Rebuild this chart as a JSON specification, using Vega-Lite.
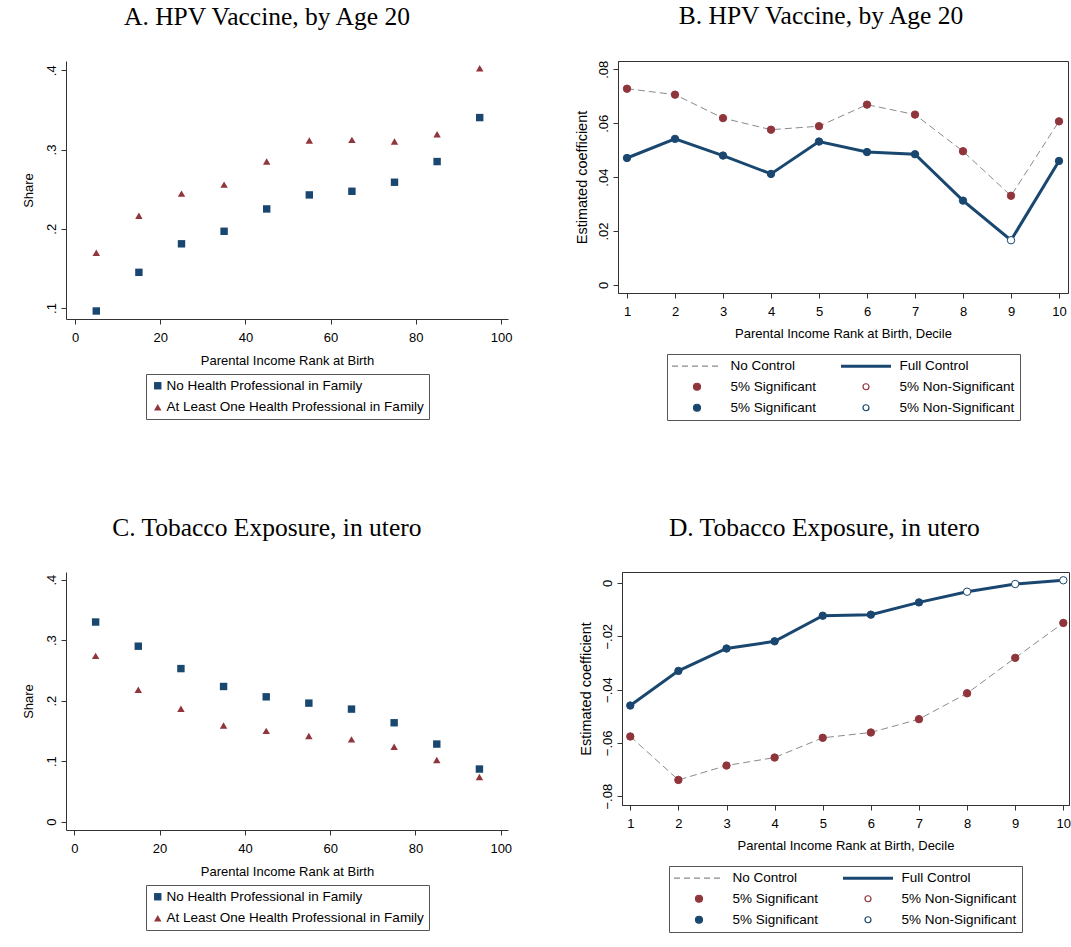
{
  "$schema": "https://vega.github.io/schema/vega-lite/v6.json",
  "background": "white",
  "padding": {"left": 22, "top": 3, "right": 0, "bottom": 0},
  "config": {
    "font": "Liberation Sans",
    "view": {"stroke": null},
    "axis": {"labelFont": "Liberation Sans", "labelFontSize": 13, "labelColor": "#000", "titleFont": "Liberation Sans", "titleFontSize": 13, "titleFontWeight": "normal", "titleColor": "#000", "domainColor": "#333", "tickColor": "#333", "grid": false, "tickSize": 5, "labelPadding": 3, "titlePadding": 10},
    "axisY": {"labelAngle": -90, "labelAlign": "center", "labelBaseline": "bottom"},
    "title": {"font": "Liberation Serif", "fontSize": 25.5, "fontWeight": "normal", "color": "#000", "anchor": "middle", "offset": 31, "frame": "bounds"},
    "legend": {"labelFont": "Liberation Sans", "labelFontSize": 13.5, "labelColor": "#000", "strokeColor": "#555", "labelLimit": 500, "layout": {"bottom": {"anchor": "middle"}}}
  },
  "resolve": {"scale": {"shape": "independent", "color": "independent", "fill": "independent", "stroke": "independent"}, "legend": {"shape": "independent", "color": "independent", "fill": "independent", "stroke": "independent"}},
  "datasets": {
    "a": [
      {"rank": 5, "group": "No Health Professional in Family", "share": 0.0962},
      {"rank": 15, "group": "No Health Professional in Family", "share": 0.145},
      {"rank": 25, "group": "No Health Professional in Family", "share": 0.181},
      {"rank": 35, "group": "No Health Professional in Family", "share": 0.1968},
      {"rank": 45, "group": "No Health Professional in Family", "share": 0.225},
      {"rank": 55, "group": "No Health Professional in Family", "share": 0.2427},
      {"rank": 65, "group": "No Health Professional in Family", "share": 0.2473},
      {"rank": 75, "group": "No Health Professional in Family", "share": 0.2587},
      {"rank": 85, "group": "No Health Professional in Family", "share": 0.2848},
      {"rank": 95, "group": "No Health Professional in Family", "share": 0.3403},
      {"rank": 5, "group": "At Least One Health Professional in Family", "share": 0.1698},
      {"rank": 15, "group": "At Least One Health Professional in Family", "share": 0.2165},
      {"rank": 25, "group": "At Least One Health Professional in Family", "share": 0.2443},
      {"rank": 35, "group": "At Least One Health Professional in Family", "share": 0.2557},
      {"rank": 45, "group": "At Least One Health Professional in Family", "share": 0.2848},
      {"rank": 55, "group": "At Least One Health Professional in Family", "share": 0.3113},
      {"rank": 65, "group": "At Least One Health Professional in Family", "share": 0.3122},
      {"rank": 75, "group": "At Least One Health Professional in Family", "share": 0.3101},
      {"rank": 85, "group": "At Least One Health Professional in Family", "share": 0.3192},
      {"rank": 95, "group": "At Least One Health Professional in Family", "share": 0.4025}
    ],
    "c": [
      {"rank": 5, "group": "No Health Professional in Family", "share": 0.330},
      {"rank": 15, "group": "No Health Professional in Family", "share": 0.290},
      {"rank": 25, "group": "No Health Professional in Family", "share": 0.253},
      {"rank": 35, "group": "No Health Professional in Family", "share": 0.2234},
      {"rank": 45, "group": "No Health Professional in Family", "share": 0.2063},
      {"rank": 55, "group": "No Health Professional in Family", "share": 0.1959},
      {"rank": 65, "group": "No Health Professional in Family", "share": 0.186},
      {"rank": 75, "group": "No Health Professional in Family", "share": 0.1634},
      {"rank": 85, "group": "No Health Professional in Family", "share": 0.1282},
      {"rank": 95, "group": "No Health Professional in Family", "share": 0.0869},
      {"rank": 5, "group": "At Least One Health Professional in Family", "share": 0.274},
      {"rank": 15, "group": "At Least One Health Professional in Family", "share": 0.2179},
      {"rank": 25, "group": "At Least One Health Professional in Family", "share": 0.1865},
      {"rank": 35, "group": "At Least One Health Professional in Family", "share": 0.159},
      {"rank": 45, "group": "At Least One Health Professional in Family", "share": 0.150},
      {"rank": 55, "group": "At Least One Health Professional in Family", "share": 0.1414},
      {"rank": 65, "group": "At Least One Health Professional in Family", "share": 0.1359},
      {"rank": 75, "group": "At Least One Health Professional in Family", "share": 0.1238},
      {"rank": 85, "group": "At Least One Health Professional in Family", "share": 0.1018},
      {"rank": 95, "group": "At Least One Health Professional in Family", "share": 0.0737}
    ],
    "b": [
      {"decile": 1, "model": "No Control", "coef": 0.0728, "sig": true},
      {"decile": 2, "model": "No Control", "coef": 0.0706, "sig": true},
      {"decile": 3, "model": "No Control", "coef": 0.0619, "sig": true},
      {"decile": 4, "model": "No Control", "coef": 0.0576, "sig": true},
      {"decile": 5, "model": "No Control", "coef": 0.0589, "sig": true},
      {"decile": 6, "model": "No Control", "coef": 0.0669, "sig": true},
      {"decile": 7, "model": "No Control", "coef": 0.0632, "sig": true},
      {"decile": 8, "model": "No Control", "coef": 0.0496, "sig": true},
      {"decile": 9, "model": "No Control", "coef": 0.0331, "sig": true},
      {"decile": 10, "model": "No Control", "coef": 0.0607, "sig": true},
      {"decile": 1, "model": "Full Control", "coef": 0.0471, "sig": true},
      {"decile": 2, "model": "Full Control", "coef": 0.0542, "sig": true},
      {"decile": 3, "model": "Full Control", "coef": 0.0480, "sig": true},
      {"decile": 4, "model": "Full Control", "coef": 0.0412, "sig": true},
      {"decile": 5, "model": "Full Control", "coef": 0.0532, "sig": true},
      {"decile": 6, "model": "Full Control", "coef": 0.0493, "sig": true},
      {"decile": 7, "model": "Full Control", "coef": 0.0485, "sig": true},
      {"decile": 8, "model": "Full Control", "coef": 0.0313, "sig": true},
      {"decile": 9, "model": "Full Control", "coef": 0.0166, "sig": false},
      {"decile": 10, "model": "Full Control", "coef": 0.0460, "sig": true}
    ],
    "d": [
      {"decile": 1, "model": "No Control", "coef": -0.0576, "sig": true},
      {"decile": 2, "model": "No Control", "coef": -0.0739, "sig": true},
      {"decile": 3, "model": "No Control", "coef": -0.0685, "sig": true},
      {"decile": 4, "model": "No Control", "coef": -0.0655, "sig": true},
      {"decile": 5, "model": "No Control", "coef": -0.0581, "sig": true},
      {"decile": 6, "model": "No Control", "coef": -0.0561, "sig": true},
      {"decile": 7, "model": "No Control", "coef": -0.0511, "sig": true},
      {"decile": 8, "model": "No Control", "coef": -0.0414, "sig": true},
      {"decile": 9, "model": "No Control", "coef": -0.0281, "sig": true},
      {"decile": 10, "model": "No Control", "coef": -0.0150, "sig": true},
      {"decile": 1, "model": "Full Control", "coef": -0.0460, "sig": true},
      {"decile": 2, "model": "Full Control", "coef": -0.0330, "sig": true},
      {"decile": 3, "model": "Full Control", "coef": -0.0246, "sig": true},
      {"decile": 4, "model": "Full Control", "coef": -0.0219, "sig": true},
      {"decile": 5, "model": "Full Control", "coef": -0.0123, "sig": true},
      {"decile": 6, "model": "Full Control", "coef": -0.0119, "sig": true},
      {"decile": 7, "model": "Full Control", "coef": -0.0073, "sig": true},
      {"decile": 8, "model": "Full Control", "coef": -0.0033, "sig": false},
      {"decile": 9, "model": "Full Control", "coef": -0.0004, "sig": false},
      {"decile": 10, "model": "Full Control", "coef": 0.0010, "sig": false}
    ]
  },
  "spacing": 94,
  "vconcat": [
    {
      "spacing": 61,
      "resolve": {"scale": {"shape": "independent", "color": "independent", "fill": "independent", "stroke": "independent"}, "legend": {"shape": "independent", "color": "independent", "fill": "independent", "stroke": "independent"}},
      "hconcat": [
        {
          "width": 442, "height": 258,
          "title": {"text": "A. HPV Vaccine, by Age 20"},
          "data": {"name": "a"},
          "mark": {"type": "point", "filled": true, "opacity": 1},
          "encoding": {
            "x": {"field": "rank", "type": "quantitative", "scale": {"domain": [-2.11, 101.64], "nice": false, "zero": false}, "axis": {"values": [0, 20, 40, 60, 80, 100], "title": "Parental Income Rank at Birth", "labelPadding": 7, "titlePadding": 10}},
            "y": {"field": "share", "type": "quantitative", "scale": {"domain": [0.0861, 0.4117], "nice": false, "zero": false}, "axis": {"values": [0.1, 0.2, 0.3, 0.4], "title": "Share", "labelExpr": "datum.value == 0 ? '0' : replace(format(datum.value, '.1f'), '0.', '.')"}},
            "shape": {"field": "group", "type": "nominal", "scale": {"domain": ["No Health Professional in Family", "At Least One Health Professional in Family"], "range": ["square", "triangle-up"]}, "legend": {"title": null, "orient": "bottom", "direction": "vertical", "symbolSize": 55, "padding": 5, "labelOffset": 2, "rowPadding": 6.5, "offset": 7}},
            "color": {"field": "group", "type": "nominal", "scale": {"domain": ["No Health Professional in Family", "At Least One Health Professional in Family"], "range": ["#1a476f", "#90353b"]}, "legend": {"title": null, "orient": "bottom", "direction": "vertical", "symbolSize": 55, "padding": 5, "labelOffset": 2, "rowPadding": 6.5, "offset": 7}},
            "size": {"value": 55}
          }
        },
        {
          "width": 450, "height": 232,
          "title": {"text": "B. HPV Vaccine, by Age 20"},
          "view": {"stroke": "#333", "strokeWidth": 1},
          "data": {"name": "b"},
          "encoding": {
            "x": {"field": "decile", "type": "quantitative", "scale": {"domain": [0.8125, 10.1875], "nice": false, "zero": false}, "axis": {"values": [1, 2, 3, 4, 5, 6, 7, 8, 9, 10], "title": "Parental Income Rank at Birth, Decile", "labelPadding": 7, "titlePadding": 9}},
            "y": {"field": "coef", "type": "quantitative", "scale": {"domain": [-0.00297, 0.08308], "nice": false, "zero": false}, "axis": {"values": [0, 0.02, 0.04, 0.06, 0.08], "title": "Estimated coefficient", "titleFontSize": 14.5, "titlePadding": 8, "labelExpr": "datum.value == 0 ? '0' : replace(format(datum.value, '.2f'), '0.', '.')"}}
          },
          "layer": [
            {"data": {"values": [{}]}, "mark": {"type": "rule", "color": "#555", "strokeWidth": 1}, "encoding": {"x": null, "y": {"datum": 0, "type": "quantitative"}}},
            {"transform": [{"filter": "datum.model == 'No Control'"}], "mark": {"type": "line", "color": "#8a8a8a", "strokeWidth": 1, "strokeDash": [7, 4]}},
            {"transform": [{"filter": "datum.model == 'Full Control'"}], "mark": {"type": "line", "color": "#1a476f", "strokeWidth": 3}},
            {"transform": [{"filter": "datum.model == 'No Control'"}], "mark": {"type": "point", "shape": "circle", "size": 55, "opacity": 1, "strokeWidth": 1}, "encoding": {"fill": {"condition": {"test": "datum.sig", "value": "#90353b"}, "value": "white"}, "stroke": {"value": "#90353b"}}},
            {"transform": [{"filter": "datum.model == 'Full Control'"}], "mark": {"type": "point", "shape": "circle", "size": 55, "opacity": 1, "strokeWidth": 1}, "encoding": {"fill": {"condition": {"test": "datum.sig", "value": "#1a476f"}, "value": "white"}, "stroke": {"value": "#1a476f"}}},
            {"transform": [{"filter": "false"}], "mark": {"type": "point", "opacity": 1, "filled": true},
              "encoding": {
                "shape": {"field": "leg", "type": "nominal", "scale": {"domain": ["No Control", "Full Control", "5% Significant", "5% Non-Significant", "5% Significant ", "5% Non-Significant "], "range": ["M-1.35,0H-0.15M0.65,0H1.85M2.65,0H3.85M4.65,0H5.85M6.65,0H7.85", "M-1.35,-0.3H8.65V0.3H-1.35Z", "M2.95,0A0.7,0.7 0 1,0 4.35,0A0.7,0.7 0 1,0 2.95,0Z", "M3.05,0A0.6,0.6 0 1,0 4.25,0A0.6,0.6 0 1,0 3.05,0Z", "M2.95,0A0.7,0.7 0 1,0 4.35,0A0.7,0.7 0 1,0 2.95,0Z", "M3.05,0A0.6,0.6 0 1,0 4.25,0A0.6,0.6 0 1,0 3.05,0Z"]}, "legend": {"title": null, "orient": "bottom", "direction": "horizontal", "columns": 2, "symbolSize": 100, "symbolStrokeWidth": 1.2, "labelOffset": 45, "columnPadding": 21, "rowPadding": 6, "padding": 5, "gridAlign": "each", "offset": 14}},
                "fill": {"field": "leg", "type": "nominal", "scale": {"domain": ["No Control", "Full Control", "5% Significant", "5% Non-Significant", "5% Significant ", "5% Non-Significant "], "range": ["transparent", "#1a476f", "#90353b", "white", "#1a476f", "white"]}, "legend": {"title": null, "orient": "bottom", "direction": "horizontal", "columns": 2, "symbolSize": 100, "symbolStrokeWidth": 1.2, "labelOffset": 45, "columnPadding": 21, "rowPadding": 6, "padding": 5, "gridAlign": "each", "offset": 14}},
                "stroke": {"field": "leg", "type": "nominal", "scale": {"domain": ["No Control", "Full Control", "5% Significant", "5% Non-Significant", "5% Significant ", "5% Non-Significant "], "range": ["#8a8a8a", "transparent", "#90353b", "#90353b", "#1a476f", "#1a476f"]}, "legend": {"title": null, "orient": "bottom", "direction": "horizontal", "columns": 2, "symbolSize": 100, "symbolStrokeWidth": 1.2, "labelOffset": 45, "columnPadding": 21, "rowPadding": 6, "padding": 5, "gridAlign": "each", "offset": 14}}
              }
            }
          ]
        }
      ]
    },
    {
      "spacing": 65,
      "resolve": {"scale": {"shape": "independent", "color": "independent", "fill": "independent", "stroke": "independent"}, "legend": {"shape": "independent", "color": "independent", "fill": "independent", "stroke": "independent"}},
      "hconcat": [
        {
          "width": 442, "height": 258,
          "title": {"text": "C. Tobacco Exposure, in utero"},
          "data": {"name": "c"},
          "mark": {"type": "point", "filled": true, "opacity": 1},
          "encoding": {
            "x": {"field": "rank", "type": "quantitative", "scale": {"domain": [-1.95, 101.7], "nice": false, "zero": false}, "axis": {"values": [0, 20, 40, 60, 80, 100], "title": "Parental Income Rank at Birth", "labelPadding": 7, "titlePadding": 10}},
            "y": {"field": "share", "type": "quantitative", "scale": {"domain": [-0.0139, 0.4127], "nice": false, "zero": false}, "axis": {"values": [0, 0.1, 0.2, 0.3, 0.4], "title": "Share", "labelExpr": "datum.value == 0 ? '0' : replace(format(datum.value, '.1f'), '0.', '.')"}},
            "shape": {"field": "group", "type": "nominal", "scale": {"domain": ["No Health Professional in Family", "At Least One Health Professional in Family"], "range": ["square", "triangle-up"]}, "legend": {"title": null, "orient": "bottom", "direction": "vertical", "symbolSize": 55, "padding": 5, "labelOffset": 2, "rowPadding": 6.5, "offset": 7}},
            "color": {"field": "group", "type": "nominal", "scale": {"domain": ["No Health Professional in Family", "At Least One Health Professional in Family"], "range": ["#1a476f", "#90353b"]}, "legend": {"title": null, "orient": "bottom", "direction": "vertical", "symbolSize": 55, "padding": 5, "labelOffset": 2, "rowPadding": 6.5, "offset": 7}},
            "size": {"value": 55}
          }
        },
        {
          "width": 447, "height": 233,
          "title": {"text": "D. Tobacco Exposure, in utero"},
          "view": {"stroke": "#333", "strokeWidth": 1},
          "data": {"name": "d"},
          "encoding": {
            "x": {"field": "decile", "type": "quantitative", "scale": {"domain": [0.828, 10.118], "nice": false, "zero": false}, "axis": {"values": [1, 2, 3, 4, 5, 6, 7, 8, 9, 10], "title": "Parental Income Rank at Birth, Decile", "labelPadding": 7, "titlePadding": 9}},
            "y": {"field": "coef", "type": "quantitative", "scale": {"domain": [-0.0833, 0.0041], "nice": false, "zero": false}, "axis": {"values": [-0.08, -0.06, -0.04, -0.02, 0], "title": "Estimated coefficient", "titleFontSize": 14.5, "titlePadding": 8, "labelExpr": "datum.value == 0 ? '0' : replace(format(datum.value, '.2f'), '0.', '.')"}}
          },
          "layer": [
            {"data": {"values": [{}]}, "mark": {"type": "rule", "color": "#555", "strokeWidth": 1}, "encoding": {"x": null, "y": {"datum": 0, "type": "quantitative"}}},
            {"transform": [{"filter": "datum.model == 'No Control'"}], "mark": {"type": "line", "color": "#8a8a8a", "strokeWidth": 1, "strokeDash": [7, 4]}},
            {"transform": [{"filter": "datum.model == 'Full Control'"}], "mark": {"type": "line", "color": "#1a476f", "strokeWidth": 3}},
            {"transform": [{"filter": "datum.model == 'No Control'"}], "mark": {"type": "point", "shape": "circle", "size": 55, "opacity": 1, "strokeWidth": 1}, "encoding": {"fill": {"condition": {"test": "datum.sig", "value": "#90353b"}, "value": "white"}, "stroke": {"value": "#90353b"}}},
            {"transform": [{"filter": "datum.model == 'Full Control'"}], "mark": {"type": "point", "shape": "circle", "size": 55, "opacity": 1, "strokeWidth": 1}, "encoding": {"fill": {"condition": {"test": "datum.sig", "value": "#1a476f"}, "value": "white"}, "stroke": {"value": "#1a476f"}}},
            {"transform": [{"filter": "false"}], "mark": {"type": "point", "opacity": 1, "filled": true},
              "encoding": {
                "shape": {"field": "leg", "type": "nominal", "scale": {"domain": ["No Control", "Full Control", "5% Significant", "5% Non-Significant", "5% Significant ", "5% Non-Significant "], "range": ["M-1.35,0H-0.15M0.65,0H1.85M2.65,0H3.85M4.65,0H5.85M6.65,0H7.85", "M-1.35,-0.3H8.65V0.3H-1.35Z", "M2.95,0A0.7,0.7 0 1,0 4.35,0A0.7,0.7 0 1,0 2.95,0Z", "M3.05,0A0.6,0.6 0 1,0 4.25,0A0.6,0.6 0 1,0 3.05,0Z", "M2.95,0A0.7,0.7 0 1,0 4.35,0A0.7,0.7 0 1,0 2.95,0Z", "M3.05,0A0.6,0.6 0 1,0 4.25,0A0.6,0.6 0 1,0 3.05,0Z"]}, "legend": {"title": null, "orient": "bottom", "direction": "horizontal", "columns": 2, "symbolSize": 100, "symbolStrokeWidth": 1.2, "labelOffset": 45, "columnPadding": 21, "rowPadding": 6, "padding": 5, "gridAlign": "each", "offset": 14}},
                "fill": {"field": "leg", "type": "nominal", "scale": {"domain": ["No Control", "Full Control", "5% Significant", "5% Non-Significant", "5% Significant ", "5% Non-Significant "], "range": ["transparent", "#1a476f", "#90353b", "white", "#1a476f", "white"]}, "legend": {"title": null, "orient": "bottom", "direction": "horizontal", "columns": 2, "symbolSize": 100, "symbolStrokeWidth": 1.2, "labelOffset": 45, "columnPadding": 21, "rowPadding": 6, "padding": 5, "gridAlign": "each", "offset": 14}},
                "stroke": {"field": "leg", "type": "nominal", "scale": {"domain": ["No Control", "Full Control", "5% Significant", "5% Non-Significant", "5% Significant ", "5% Non-Significant "], "range": ["#8a8a8a", "transparent", "#90353b", "#90353b", "#1a476f", "#1a476f"]}, "legend": {"title": null, "orient": "bottom", "direction": "horizontal", "columns": 2, "symbolSize": 100, "symbolStrokeWidth": 1.2, "labelOffset": 45, "columnPadding": 21, "rowPadding": 6, "padding": 5, "gridAlign": "each", "offset": 14}}
              }
            }
          ]
        }
      ]
    }
  ]
}
